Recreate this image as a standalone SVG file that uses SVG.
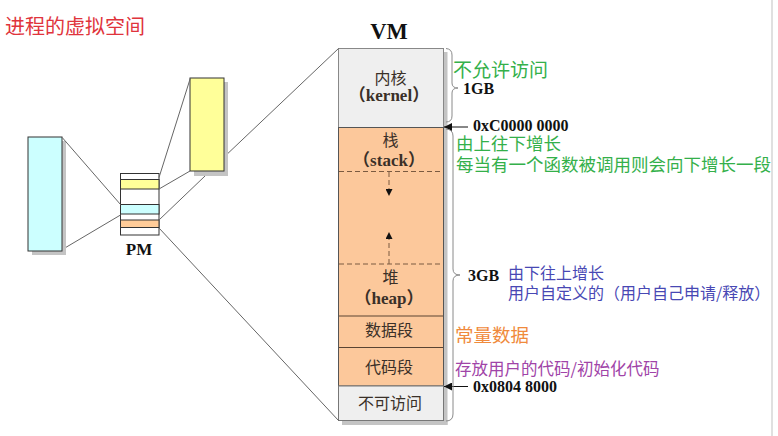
<svg xmlns="http://www.w3.org/2000/svg" width="778" height="436" viewBox="0 0 778 436">
<defs>
<marker id="ah" viewBox="0 0 10 10" refX="10" refY="5" markerWidth="7" markerHeight="7" markerUnits="userSpaceOnUse" orient="auto">
<path d="M0,0 L10,5 L0,10 Z" fill="#111"/>
</marker>
<marker id="ah2" viewBox="0 0 10 10" refX="10" refY="5" markerWidth="9" markerHeight="8" markerUnits="userSpaceOnUse" orient="auto">
<path d="M0,0 L10,5 L0,10 Z" fill="#111"/>
</marker>
</defs>
<style>
.cjk{font-family:"Noto Sans CJK SC","Noto Sans",sans-serif}
.ser{font-family:"Liberation Serif","Noto Sans CJK SC",serif;font-weight:bold;fill:#111}
.lbl{font-family:"Noto Sans CJK SC",sans-serif;font-size:16px;fill:#3a3028;text-anchor:middle}
.slbl{font-family:"Liberation Serif","Noto Sans CJK SC",serif;font-weight:bold;font-size:17px;fill:#3a3028;text-anchor:middle}
.conn{stroke:#666;stroke-width:1;fill:none}
.shadow{fill:#c4c4c4}
.sep{stroke:#5a4432;stroke-width:1}
.dash{stroke:#7a5a40;stroke-width:1;stroke-dasharray:5,3}
.brace{stroke:#8a8a8a;stroke-width:1;fill:none}
</style>
<rect width="778" height="436" fill="#ffffff"/>
<line x1="772" y1="0" x2="772" y2="436" stroke="#d6d6d6" stroke-width="1.5"/>

<text x="5" y="33.5" class="cjk" font-size="20" fill="#e0343c">进程的虚拟空间</text>

<g id="cyan-block">
<rect class="shadow" x="32" y="141" width="34" height="114"/>
<rect x="28" y="137" width="34" height="114" fill="#ccffff" stroke="#333" stroke-width="1"/>
</g>

<g id="yellow-block">
<rect class="shadow" x="194" y="82" width="34" height="94"/>
<rect x="190" y="78" width="34" height="93" fill="#ffff99" stroke="#333" stroke-width="1"/>
</g>

<g id="pm">
<rect x="120.5" y="173.5" width="38.5" height="61.5" fill="#ffffff" stroke="#333" stroke-width="1"/>
<rect x="120.5" y="179.5" width="38.5" height="9.5" fill="#ffff99" stroke="#333" stroke-width="1"/>
<rect x="120.5" y="204.5" width="38.5" height="9.5" fill="#ccffff" stroke="#333" stroke-width="1"/>
<rect x="120.5" y="220" width="38.5" height="7.5" fill="#ffcc99" stroke="#333" stroke-width="1"/>
<text x="139" y="255" class="ser" font-size="17" text-anchor="middle">PM</text>
</g>

<g id="vm">
<text x="389" y="38.5" class="ser" font-size="22.5" text-anchor="middle">VM</text>
<rect class="shadow" x="443" y="52" width="4.5" height="373"/>
<rect class="shadow" x="342" y="420" width="105.5" height="5"/>
<rect x="338.5" y="48.5" width="105" height="79" fill="#efefef" stroke="#888" stroke-width="1"/>
<rect x="338.5" y="127.5" width="105" height="258.5" fill="#fcc89b" stroke="#555" stroke-width="1"/>
<rect x="338.5" y="386" width="105" height="34.5" fill="#efefef" stroke="#777" stroke-width="1"/>
<line class="dash" x1="339" y1="171.5" x2="443" y2="171.5"/>
<line class="dash" x1="339" y1="264" x2="443" y2="264"/>
<line class="sep" x1="339" y1="316" x2="443" y2="316"/>
<line class="sep" x1="339" y1="347.5" x2="443" y2="347.5"/>
<line class="dash" x1="389" y1="172" x2="389" y2="196" marker-end="url(#ah)"/>
<line class="dash" x1="389" y1="264" x2="389" y2="232" marker-end="url(#ah)"/>
<text x="390.5" y="83.5" class="lbl">内核</text>
<text x="389" y="101" class="slbl">（kernel）</text>
<text x="390.5" y="145.5" class="lbl">栈</text>
<text x="389" y="165.5" class="slbl">（stack）</text>
<text x="390.5" y="283" class="lbl">堆</text>
<text x="389" y="303.5" class="slbl">（heap）</text>
<text x="389" y="336" class="lbl">数据段</text>
<text x="389" y="373" class="lbl">代码段</text>
<text x="390" y="409" class="lbl">不可访问</text>
</g>

<g id="connectors">
<line class="conn" x1="62" y1="137.3" x2="120.5" y2="204.5"/>
<line class="conn" x1="66" y1="247.3" x2="120.5" y2="215"/>
<line class="conn" x1="159" y1="177.5" x2="190.3" y2="78.3"/>
<line class="conn" x1="159" y1="189" x2="190" y2="171"/>
<line class="conn" x1="159" y1="220" x2="205" y2="176"/>
<line class="conn" x1="228" y1="153.3" x2="338.5" y2="48.5"/>
<line class="conn" x1="159" y1="228" x2="338.5" y2="420.5"/>
<line x1="468" y1="127" x2="444" y2="127" stroke="#111" stroke-width="1" marker-end="url(#ah2)"/>
<line x1="468" y1="386.5" x2="444" y2="386.5" stroke="#111" stroke-width="1" marker-end="url(#ah2)"/>
<path class="brace" d="M446,48.5 Q452,49 452,55 L452,83 Q452,88 458,88 Q452,88 452,93 L452,116 Q452,122 446,122"/>
<path class="brace" d="M446,129 Q453,129.5 453,136 L453,269 Q453,275 460,275 Q453,275 453,281 L453,414 Q453,421 446,421"/>
</g>

<g id="annotations">
<text x="473" y="131" class="ser" font-size="16">0xC0000 0000</text>
<text x="473" y="391.5" class="ser" font-size="16">0x0804 8000</text>
<text x="463" y="94" class="ser" font-size="16">1GB</text>
<text x="468" y="281" class="ser" font-size="16">3GB</text>
<text x="453" y="76.5" class="cjk" font-size="19" fill="#34b04a">不允许访问</text>
<text x="456" y="149.5" class="cjk" font-size="17.5" fill="#34b04a">由上往下增长</text>
<text x="456" y="171" class="cjk" font-size="17.5" fill="#34b04a">每当有一个函数被调用则会向下增长一段</text>
<text x="508" y="279" class="cjk" font-size="16" fill="#4848b4">由下往上增长</text>
<text x="508" y="299" class="cjk" font-size="16" fill="#4848b4">用户自定义的（用户自己申请/释放）</text>
<text x="455" y="341.7" class="cjk" font-size="18.5" fill="#f08a3c">常量数据</text>
<text x="455" y="374.5" class="cjk" font-size="16.5" fill="#a044a8">存放用户的代码/初始化代码</text>
</g>
</svg>
